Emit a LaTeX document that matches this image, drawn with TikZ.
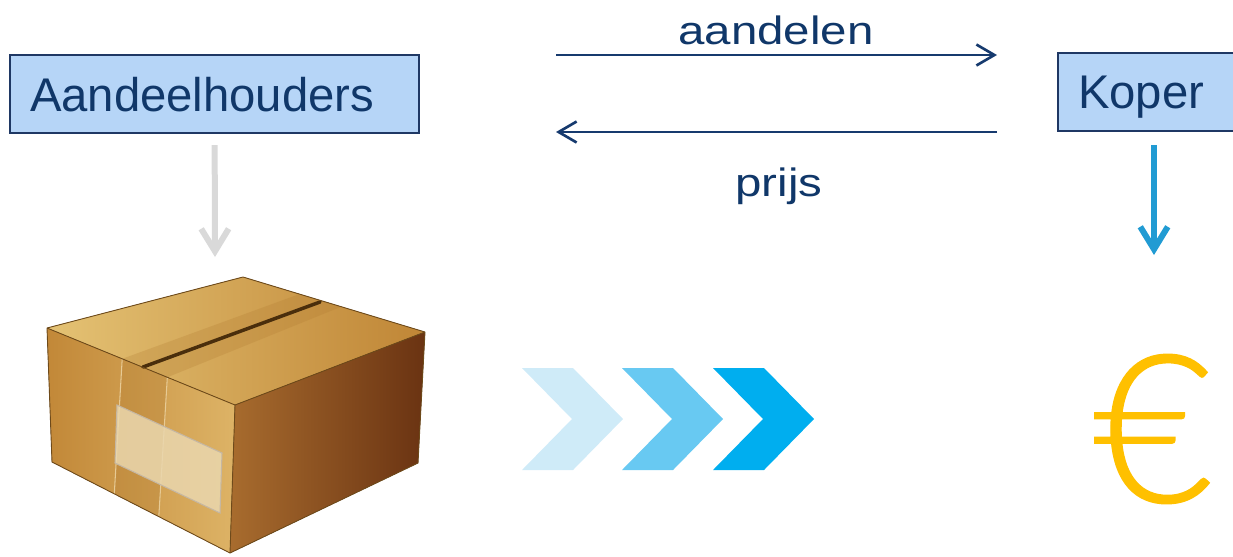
\documentclass[tikz,border=0pt]{standalone}
\usepackage{fontspec}
\setmainfont{Liberation Sans}
\IfFontExistsTF{Lato Light}
  {\newfontfamily\eurofont{Lato Light}[BoldFont=Lato Light, BoldFeatures={FakeBold=0.6}]\newcommand\eurosize{\fontsize{118}{118}\bfseries}}
  {\newfontfamily\eurofont{Carlito}\newcommand\eurosize{\fontsize{131}{131}}}
\usetikzlibrary{positioning,arrows.meta,calc}

\definecolor{DeckNavy}{RGB}{16,55,105}
\definecolor{PartyFill}{RGB}{182,213,247}
\definecolor{PartyEdge}{RGB}{31,56,100}
\definecolor{DealNavy}{RGB}{22,58,110}
\definecolor{SoftGray}{RGB}{217,217,217}
\definecolor{BuyerBlue}{RGB}{33,155,211}
\definecolor{ChevA}{RGB}{207,235,248}
\definecolor{ChevB}{RGB}{104,201,242}
\definecolor{ChevC}{RGB}{0,174,239}
\definecolor{EuroGold}{RGB}{255,192,0}
\definecolor{TopLight}{RGB}{228,194,116}
\definecolor{TopDark}{RGB}{192,134,54}
\definecolor{FrontDark}{RGB}{194,136,56}
\definecolor{FrontLight}{RGB}{221,179,102}
\definecolor{SideLight}{RGB}{168,108,46}
\definecolor{SideDark}{RGB}{106,51,18}
\definecolor{BoxEdge}{RGB}{110,74,26}
\definecolor{SeamBrown}{RGB}{74,46,12}
\definecolor{TapeTan}{RGB}{176,122,48}
\definecolor{LabelCream}{RGB}{234,215,174}

\begin{document}
\begin{tikzpicture}[x=0.02cm, y=-0.02cm,
    every node/.style={text=DeckNavy},
    party/.style={draw=PartyEdge, line width=1.2pt, fill=PartyFill, inner xsep=0.4cm, inner ysep=0pt,
      minimum height=1.56cm, align=left, text depth=0pt, font=\fontsize{26.9}{30}\selectfont},
    deal/.style={anchor=base, xscale=1.2, font=\fontsize{22.5}{26}\selectfont},
    flow/.style={draw=DealNavy, line width=1.5pt, -{Straight Barb[length=0.36cm, width=0.42cm]}},
    down/.style={line width=0.12cm, -{Straight Barb[length=0.45cm, width=0.55cm]}},
    edge/.style={draw=BoxEdge, line width=0.5pt, line join=round},
    euro/.style={text=EuroGold, font=\eurofont\eurosize\selectfont, inner sep=0pt}
  ]
  \useasboundingbox (0,0) rectangle (1233,556);
  \clip (0,0) rectangle (1233,556);

  \node[party, text width=7.38cm] (holders) at (214.5,94) {Aandeelhouders};
  \node[party, text width=3.04cm] (buyer) at (1154,92) {Koper};

  % shares go right, the price comes back
  \coordinate (sellL) at (556,55);
  \coordinate (sellR) at (997,55);
  \coordinate (payR) at (997,132);
  \coordinate (payL) at (556,132);
  \draw[flow] (sellL) -- (sellR);
  \draw[flow] (payR) -- (payL);
  \node[deal] (shares) at (776,44.3) {aandelen};
  \node[deal] (price) at (779,196.7) {prijs};

  % the company, as a cardboard box
  \coordinate (bA) at (47,328);
  \coordinate (bB) at (243,277);
  \coordinate (bC) at (425,332);
  \coordinate (bD) at (235,405);
  \coordinate (bE) at (52,462);
  \coordinate (bF) at (230,553);
  \coordinate (bG) at (418,463);
  \fill[left color=TopLight, right color=TopDark] (bA) -- (bB) -- (bC) -- (bD) -- cycle;
  \fill[left color=FrontDark, right color=FrontLight] (bA) -- (bD) -- (bF) -- (bE) -- cycle;
  \fill[left color=SideLight, right color=SideDark] (bD) -- (bC) -- (bG) -- (bF) -- cycle;
  \fill[TapeTan, opacity=0.25] ($(bA)!0.40!(bD)$) -- ($(bA)!0.64!(bD)$) -- ($(bB)!0.54!(bC)$) -- ($(bB)!0.31!(bC)$) -- cycle;
  \fill[TapeTan, opacity=0.3] ($(bA)!0.40!(bD)$) -- ($(bA)!0.64!(bD)$) -- ($(bE)!0.60!(bF)$) -- ($(bE)!0.35!(bF)$) -- cycle;
  \draw[FrontLight!70!white, line width=0.6pt] ($(bA)!0.40!(bD)$) -- ($(bE)!0.35!(bF)$)
    ($(bA)!0.64!(bD)$) -- ($(bE)!0.60!(bF)$);
  \draw[SeamBrown, line width=0.07cm, line cap=round] (143,367) -- (320,302);
  \filldraw[fill=LabelCream, fill opacity=0.85, draw=BoxEdge!40, line width=0.6pt]
    (117,405) -- (222,453) -- (220,513) -- (115,463) -- cycle;
  \draw[edge] (bA) -- (bB) -- (bC) -- (bG) -- (bF) -- (bE) -- cycle (bA) -- (bD) -- (bC) (bD) -- (bF);
  \coordinate (boxtop) at (215,257);

  % progress chevrons
  \foreach \xo/\col in {522/ChevA, 622/ChevB, 713/ChevC}
    \fill[\col] (\xo,368) -- ++(51,0) -- ++(50,51) -- ++(-50,51) -- ++(-51,0) -- ++(50,-51) -- cycle;

  \node[euro] (money) at (1153,429) {€};
  \coordinate (moneytop) at (1154,255);

  \draw[down, SoftGray, shorten <=0.22cm] (holders) -- (boxtop);
  \draw[down, BuyerBlue, shorten <=0.26cm] (buyer) -- (moneytop);
\end{tikzpicture}
\end{document}
